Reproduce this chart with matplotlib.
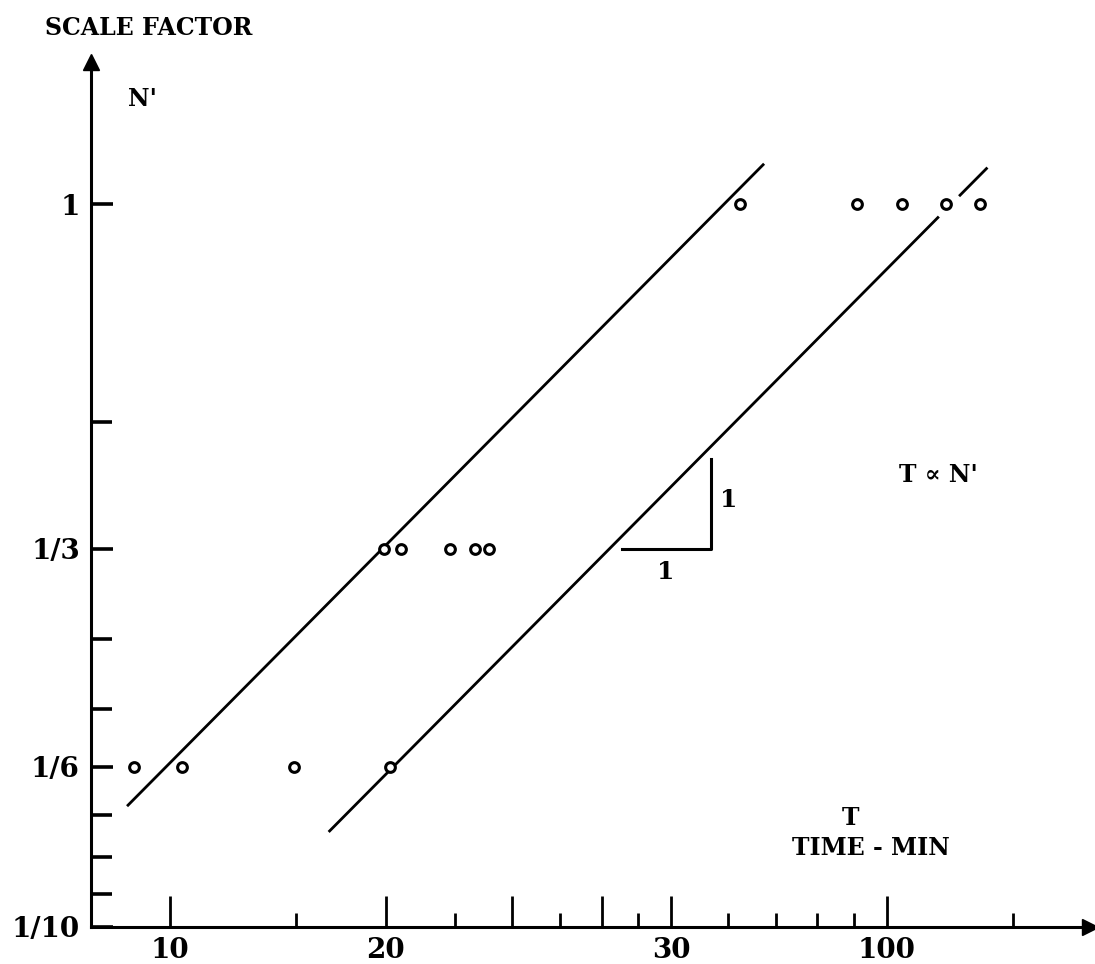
import matplotlib
matplotlib.use("Agg")
import matplotlib.pyplot as plt
from matplotlib.ticker import FixedLocator, FixedFormatter, NullFormatter

# Measured runs: time T (min) against scale factor N'
t_sixth = [8.9, 10.4, 14.9, 20.3]
t_third = [19.9, 21.0, 24.6, 26.6, 27.9]
t_full = [62.4, 91.0, 105.0, 121.0, 135.0]
n_sixth = [1 / 6] * len(t_sixth)
n_third = [1 / 3] * len(t_third)
n_full = [1.0] * len(t_full)

# Two fitted lines of the form N' = T / k
k_fast = 59.3
k_slow = 123.0
fast_span = [8.74, 67.2]
slow_spans = [[16.7, 117.8], [126.5, 137.7]]

# Axis ticks
x_major = [10, 20, 30, 40, 50, 100]
x_major_labels = ["10", "20", "", "", "30", "100"]
x_minor = [15, 25, 35, 45, 60, 70, 80, 90, 150]
y_major = [1 / 10, 1 / 6, 1 / 3, 1]
y_major_labels = ["1/10", "1/6", "1/3", "1"]
y_minor = [1 / 9, 1 / 8, 1 / 7, 1 / 5, 1 / 4, 1 / 2]

font = "DejaVu Serif"
plt.rcParams["font.family"] = font
plt.rcParams["font.weight"] = "bold"

fig = plt.figure(figsize=(10.95, 9.64), dpi=100)
ax = fig.add_axes([0.0831, 0.0384, 0.9123, 0.8973])
ax.set_xscale("log")
ax.set_yscale("log")
ax.set_xlim(7.76, 192)
ax.set_ylim(0.1, 1.572)

for s in ["top", "right"]:
    ax.spines[s].set_visible(False)
for s in ["left", "bottom"]:
    ax.spines[s].set_linewidth(2.2)

# arrow heads on the axes
ax.plot(0, 1, marker="^", color="black", markersize=11, transform=ax.transAxes, clip_on=False)
ax.plot(1, 0, marker=">", color="black", markersize=11, transform=ax.transAxes, clip_on=False)

ax.xaxis.set_major_locator(FixedLocator(x_major))
ax.xaxis.set_major_formatter(FixedFormatter(x_major_labels))
ax.xaxis.set_minor_locator(FixedLocator(x_minor))
ax.xaxis.set_minor_formatter(NullFormatter())
ax.yaxis.set_major_locator(FixedLocator(y_major))
ax.yaxis.set_major_formatter(FixedFormatter(y_major_labels))
ax.yaxis.set_minor_locator(FixedLocator(y_minor))
ax.yaxis.set_minor_formatter(NullFormatter())

ax.tick_params(axis="x", which="major", direction="in", length=22, width=2, pad=7, labelsize=20)
ax.tick_params(axis="x", which="minor", direction="in", length=10, width=2)
ax.tick_params(axis="y", which="major", direction="in", length=16, width=2.6, pad=8, labelsize=20)
ax.tick_params(axis="y", which="minor", direction="in", length=15, width=2.6)

# fitted lines
ax.plot(fast_span, [t / k_fast for t in fast_span], color="black", lw=2)
for span in slow_spans:
    ax.plot(span, [t / k_slow for t in span], color="black", lw=2)

# data points
for tx, ny in [(t_sixth, n_sixth), (t_third, n_third), (t_full, n_full)]:
    ax.plot(tx, ny, "o", mfc="white", mec="black", mew=2.2, markersize=7, zorder=3)

# slope triangle
tri_x0, tri_y0, tri_d = 42.7, 1 / 3, 1.33
ax.plot([tri_x0, tri_x0 * tri_d, tri_x0 * tri_d], [tri_y0, tri_y0, tri_y0 * tri_d],
        color="black", lw=2.2)
ax.text(tri_x0 * 1.15, tri_y0 * 0.93, "1", fontsize=18, ha="center", va="center")
ax.text(tri_x0 * tri_d * 1.06, tri_y0 * 1.17, "1", fontsize=18, ha="center", va="center")

# labels
fig.text(45 / 1095, 1 - 28 / 964, "SCALE FACTOR", fontsize=17, ha="left", va="center")
fig.text(128 / 1095, 1 - 99 / 964, "N'", fontsize=17, ha="left", va="center")
fig.text(938 / 1095, 1 - 475 / 964, "T \u221d N'", fontsize=17, ha="center", va="center")
fig.text(851 / 1095, 1 - 818 / 964, "T", fontsize=17, ha="center", va="center")
fig.text(871 / 1095, 1 - 848 / 964, "TIME - MIN", fontsize=17, ha="center", va="center")

fig.savefig("out.png", dpi=100)
